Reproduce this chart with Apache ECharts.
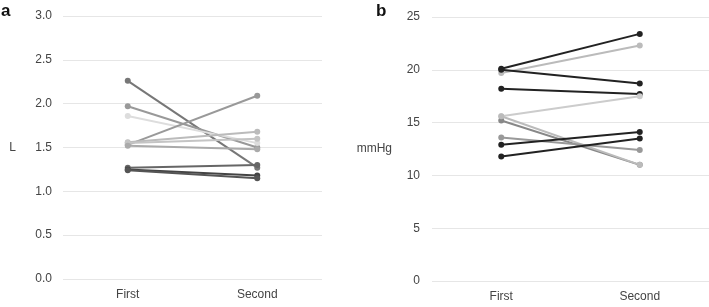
<!DOCTYPE html>
<html>
<head>
<meta charset="utf-8">
<script src="https://cdn.jsdelivr.net/npm/echarts@6/dist/echarts.min.js"></script>
<style>
  html, body { margin: 0; padding: 0; background: #fff; }
  #chart { width: 709px; height: 307px; }
</style>
</head>
<body>
<div id="chart"></div>
<script>
const categories = ['First', 'Second']

// panel a: volume (L)
const volumeFirst = [2.26, 1.97, 1.86, 1.53, 1.56, 1.55, 1.52, 1.27, 1.25, 1.24]
const volumeSecond = [1.27, 1.50, 1.55, 2.09, 1.68, 1.60, 1.48, 1.30, 1.18, 1.15]
const volumeColors = ['#777', '#999', '#ddd', '#999', '#bbb', '#c4c4c4', '#aaa', '#666', '#444', '#555']

// panel b: pressure (mmHg)
const pressureFirst = [20.1, 19.7, 20.0, 18.2, 15.6, 15.2, 15.6, 13.6, 12.9, 11.8]
const pressureSecond = [23.4, 22.3, 18.7, 17.7, 17.5, 11.0, 11.0, 12.4, 14.1, 13.5]
const pressureColors = ['#222', '#bbb', '#222', '#222', '#ccc', '#888', '#bbb', '#999', '#222', '#222']

const chart = echarts.init(document.getElementById('chart'))

const labelStyle = { color: '#444', fontSize: 12, fontFamily: 'Liberation Sans, Arial, sans-serif' }

function makeSeries(first, second, colors, idx) {
  return first.map((v, i) => ({
    type: 'line',
    xAxisIndex: idx,
    yAxisIndex: idx,
    data: [v, second[i]],
    symbol: 'circle',
    symbolSize: 6,
    lineStyle: { width: 2, color: colors[i] },
    itemStyle: { color: colors[i] },
    silent: true,
    animation: false
  }))
}

const yBase = {
  type: 'value',
  axisLine: { show: false },
  axisTick: { show: false },
  splitLine: { lineStyle: { color: '#e6e6e6', width: 1 } },
  nameLocation: 'middle',
  nameRotate: 0,
  nameTextStyle: labelStyle
}

const option = {
  title: [
    { text: 'a', left: -4, top: -2, textStyle: { fontSize: 17, fontWeight: 'bold', color: '#111', fontFamily: 'Liberation Sans, Arial, sans-serif' } },
    { text: 'b', left: 371, top: -2, textStyle: { fontSize: 17, fontWeight: 'bold', color: '#111', fontFamily: 'Liberation Sans, Arial, sans-serif' } }
  ],
  grid: [
    { left: 63, width: 259, top: 16, height: 263 },
    { left: 432, right: 0, top: 17, height: 264 }
  ],
  xAxis: [0, 1].map(i => ({
    type: 'category',
    gridIndex: i,
    data: categories,
    axisLine: { show: false },
    axisTick: { show: false },
    axisLabel: Object.assign({ margin: 10 }, labelStyle)
  })),
  yAxis: [
    Object.assign({}, yBase, {
      gridIndex: 0, min: 0, max: 3, interval: 0.5,
      name: 'L', nameGap: 47,
      axisLabel: Object.assign({ margin: 11, formatter: v => v.toFixed(1) }, labelStyle)
    }),
    Object.assign({}, yBase, {
      gridIndex: 1, min: 0, max: 25, interval: 5,
      name: 'mmHg', nameGap: 40,
      axisLabel: Object.assign({ margin: 12 }, labelStyle)
    })
  ],
  series: makeSeries(volumeFirst, volumeSecond, volumeColors, 0)
    .concat(makeSeries(pressureFirst, pressureSecond, pressureColors, 1))
}

chart.setOption(option)
</script>
</body>
</html>
